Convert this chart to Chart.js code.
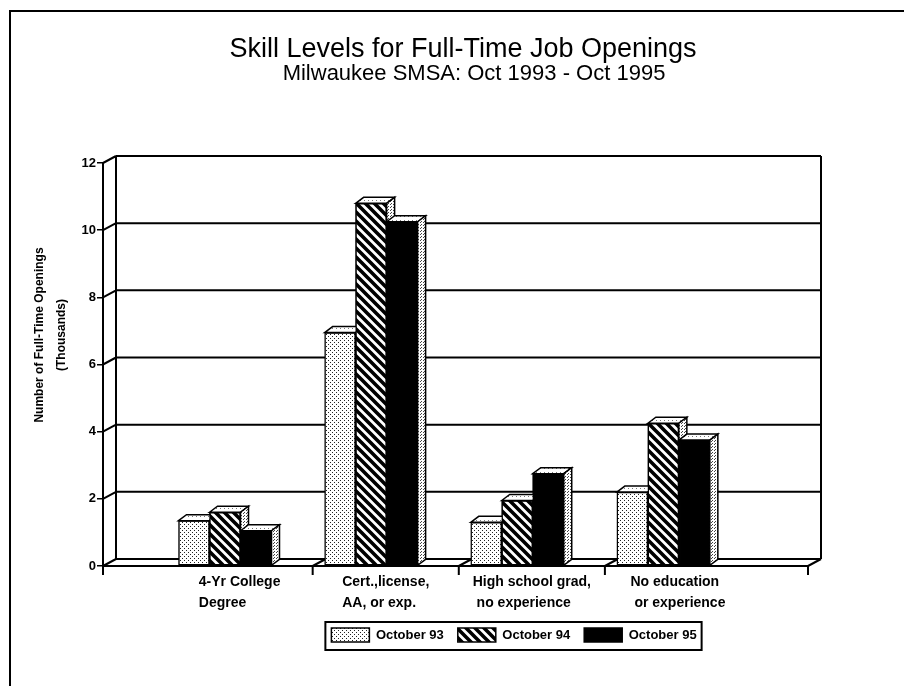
<!DOCTYPE html>
<html><head><meta charset="utf-8">
<script src="https://cdn.jsdelivr.net/npm/chart.js@4.4.0/dist/chart.umd.min.js"></script>
<style>html,body{margin:0;padding:0;background:#fff;} canvas{display:block;}</style>
</head><body>
<canvas id="c" width="904" height="686" style="width:904px;height:686px"></canvas>
<script>
// ---- data ----
const categories = [['4-Yr College', 'Degree'], ['Cert.,license,', 'AA, or exp.'], ['High school grad,', ' no experience'], ['No education', ' or experience']];
const seriesNames = ['October 93', 'October 94', 'October 95'];
const oct93 = [1.35, 6.95, 1.3, 2.2];
const oct94 = [1.6, 10.8, 1.95, 4.25];
const oct95 = [1.05, 10.25, 2.75, 3.75];
const yTickValues = [0, 2, 4, 6, 8, 10, 12];
const titleText = 'Skill Levels for Full-Time Job Openings';
const subtitleText = 'Milwaukee SMSA: Oct 1993 - Oct 1995';
const yTitle = ['Number of Full-Time Openings', '(Thousands)'];

// ---- styling / layout constants ----
const FONT = "'Liberation Sans', Arial, Helvetica, sans-serif";
const WALL = {dx: 13, dy: 7};
const BAR = {dx: 8, dy: 6};
const X_TICK_MARKS = [0.6, 1.6, 2.6];
const LABEL_SHIFT = 0.1;
const PAD = {left: 15, right: 96, top: 0, bottom: 34};
const TITLE_CENTER = 463, SUBTITLE_CENTER = 474, LEGEND_CENTER = 514;
const YTITLE_POS = {x: 40, y: 335, line: 22};

function makePattern(w, h, draw) {
  const c = document.createElement('canvas'); c.width = w; c.height = h;
  const g = c.getContext('2d'); draw(g); return g.createPattern(c, 'repeat');
}
const stipple = makePattern(4, 4, g => { g.fillStyle = '#fff'; g.fillRect(0, 0, 4, 4); g.fillStyle = '#222'; g.fillRect(0, 0, 1, 1); g.fillRect(2, 2, 1, 1); });
const hatch = makePattern(9, 9, g => {
  g.fillStyle = '#fff'; g.fillRect(0, 0, 9, 9); g.strokeStyle = '#000'; g.lineWidth = 3.6; g.beginPath();
  for (const o of [-9, 0, 9]) { g.moveTo(o - 2, -2); g.lineTo(o + 11, 11); }
  g.stroke();
});
const topPat = makePattern(4, 4, g => { g.fillStyle = '#fff'; g.fillRect(0, 0, 4, 4); g.fillStyle = '#777'; g.fillRect(0, 0, 1, 1); });
const sidePat = makePattern(3, 3, g => { g.fillStyle = '#fff'; g.fillRect(0, 0, 3, 3); g.fillStyle = '#444'; g.fillRect(0, 0, 1, 1); g.fillRect(1, 2, 1, 1); });

Chart.defaults.font.family = FONT;
Chart.defaults.color = '#000';

const mkDs = (label, vals, bg) => ({
  label, data: vals.map((v, i) => ({x: i, y: v})), backgroundColor: bg,
  borderColor: '#000', borderWidth: 1.5, borderSkipped: false, barThickness: 31
});

const framePlugin = {
  id: 'frame',
  beforeDraw(chart) {
    const ctx = chart.ctx; ctx.save(); ctx.strokeStyle = '#000'; ctx.lineWidth = 2;
    ctx.beginPath(); ctx.moveTo(10, 686); ctx.lineTo(10, 11); ctx.lineTo(904, 11); ctx.stroke(); ctx.restore();
  },
  afterDraw(chart) {
    const ctx = chart.ctx; ctx.save();
    ctx.font = 'bold 12px ' + FONT; ctx.fillStyle = '#000'; ctx.textAlign = 'center'; ctx.textBaseline = 'middle';
    yTitle.forEach((t, i) => {
      ctx.save(); ctx.translate(YTITLE_POS.x + i * YTITLE_POS.line, YTITLE_POS.y); ctx.rotate(-Math.PI / 2);
      ctx.fillText(t, 0, 0); ctx.restore();
    });
    ctx.restore();
  }
};

const shiftPlugin = {
  id: 'shift',
  afterLayout(chart) {
    chart.boxes.forEach(b => {
      if (b.axis) return;
      let target = null;
      if (b === chart.legend) target = LEGEND_CENTER;
      else if (b === chart.titleBlock) target = TITLE_CENTER;
      else if (b.position === 'top') target = SUBTITLE_CENTER;
      if (target === null) return;
      const s = target - (b.left + b.right) / 2;
      b.left += s; b.right += s;
    });
  },
  afterDraw(chart) {
    const lg = chart.legend; const hb = lg.legendHitBoxes;
    if (!hb || !hb.length) return;
    const ctx = chart.ctx; ctx.save(); ctx.strokeStyle = '#000'; ctx.lineWidth = 2;
    const last = hb[hb.length - 1];
    const l = hb[0].left - 6, r = last.left + last.width + 5;
    ctx.strokeRect(l, hb[0].top - 6, r - l, 28); ctx.restore();
  }
};

const wallsPlugin = {
  id: 'walls',
  beforeDatasetsDraw(chart) {
    const {ctx, chartArea: a, scales: {x, y}} = chart; const {dx, dy} = WALL;
    ctx.save(); ctx.strokeStyle = '#000'; ctx.lineWidth = 2; ctx.beginPath();
    y.ticks.forEach(t => {
      const py = y.getPixelForValue(t.value);
      ctx.moveTo(a.left + dx, py - dy); ctx.lineTo(a.right + dx, py - dy);
      ctx.moveTo(a.left, py); ctx.lineTo(a.left + dx, py - dy);
    });
    ctx.moveTo(a.left + dx, a.top - dy); ctx.lineTo(a.left + dx, a.bottom - dy);
    ctx.moveTo(a.right + dx, a.top - dy); ctx.lineTo(a.right + dx, a.bottom - dy);
    ctx.moveTo(a.left, a.bottom); ctx.lineTo(a.right, a.bottom);
    const xs = [a.left, ...X_TICK_MARKS.map(v => x.getPixelForValue(v)), a.right];
    xs.forEach(px => { ctx.moveTo(px, a.bottom); ctx.lineTo(px, a.bottom + 9); ctx.moveTo(px, a.bottom); ctx.lineTo(px + dx, a.bottom - dy); });
    ctx.stroke(); ctx.restore();
  }
};

const bars3dPlugin = {
  id: 'bars3d',
  afterDatasetsDraw(chart) {
    const ctx = chart.ctx; const {dx, dy} = BAR;
    const metas = chart.data.datasets.map((_, i) => chart.getDatasetMeta(i));
    ctx.save();
    for (let g = 0; g < categories.length; g++) {
      metas.forEach((m, d) => {
        const el = m.data[g];
        if (d > 0) el.draw(ctx);
        const L = el.x - el.width / 2, R = el.x + el.width / 2, T = el.y, B = el.base;
        ctx.lineWidth = 1.5; ctx.strokeStyle = '#000';
        ctx.beginPath(); ctx.moveTo(L, T); ctx.lineTo(L + dx, T - dy); ctx.lineTo(R + dx, T - dy); ctx.lineTo(R, T); ctx.closePath();
        ctx.fillStyle = topPat; ctx.fill(); ctx.stroke();
        ctx.beginPath(); ctx.moveTo(R, T); ctx.lineTo(R + dx, T - dy); ctx.lineTo(R + dx, B - dy); ctx.lineTo(R, B); ctx.closePath();
        ctx.fillStyle = sidePat; ctx.fill(); ctx.stroke();
      });
    }
    ctx.restore();
  }
};

new Chart(document.getElementById('c'), {
  type: 'bar',
  data: {
    datasets: [mkDs(seriesNames[0], oct93, stipple), mkDs(seriesNames[1], oct94, hatch), mkDs(seriesNames[2], oct95, '#000')]
  },
  options: {
    responsive: false, devicePixelRatio: 1, animation: false, events: [],
    layout: {padding: PAD},
    scales: {
      x: {
        type: 'linear', min: -0.835, max: 3.99, offset: false,
        grid: {display: false, drawTicks: false}, border: {display: false},
        afterBuildTicks: s => { s.ticks = categories.map((_, i) => ({value: i})); },
        afterFit: s => { s.height = 48; },
        afterUpdate: s => {
          const ctx = s.ctx; ctx.save(); ctx.font = Chart.helpers.toFont(s.options.ticks.font).string;
          const ppu = s.width / (s.max - s.min);
          s.ticks.forEach((t, i) => {
            const w = Math.max(...categories[i].map(l => ctx.measureText(l).width));
            t.value = i + LABEL_SHIFT - (w / 2) / ppu;
          });
          ctx.restore();
        },
        ticks: {autoSkip: false, maxRotation: 0, minRotation: 0, align: 'start', padding: 6, color: '#000',
          font: {size: 14, weight: 'bold', lineHeight: '21px'}, callback: (v, i) => categories[i]}
      },
      y: {
        min: 0, max: 12,
        afterBuildTicks: s => { s.ticks = yTickValues.map(v => ({value: v})); },
        afterFit: s => { s.width = 103 - PAD.left; },
        grid: {drawOnChartArea: false, drawTicks: true, tickLength: 6, color: '#000', lineWidth: 1.5},
        border: {display: true, color: '#000', width: 2},
        ticks: {padding: 1, color: '#000', font: {size: 13, weight: 'bold'}},
        title: {display: false}
      }
    },
    plugins: {
      title: {display: true, text: titleText, color: '#000', font: {size: 27, weight: 'normal', lineHeight: 1}, padding: {top: 36, bottom: 0}},
      subtitle: {display: true, text: subtitleText, color: '#000', font: {size: 22, weight: 'normal', lineHeight: 1}, padding: {top: 0, bottom: 78}},
      legend: {display: true, position: 'bottom',
        labels: {boxWidth: 38, boxHeight: 14, padding: 14, color: '#000', font: {size: 13, weight: 'bold'}}},
      tooltip: {enabled: false}
    }
  },
  plugins: [framePlugin, shiftPlugin, wallsPlugin, bars3dPlugin]
});
</script>
</body></html>
